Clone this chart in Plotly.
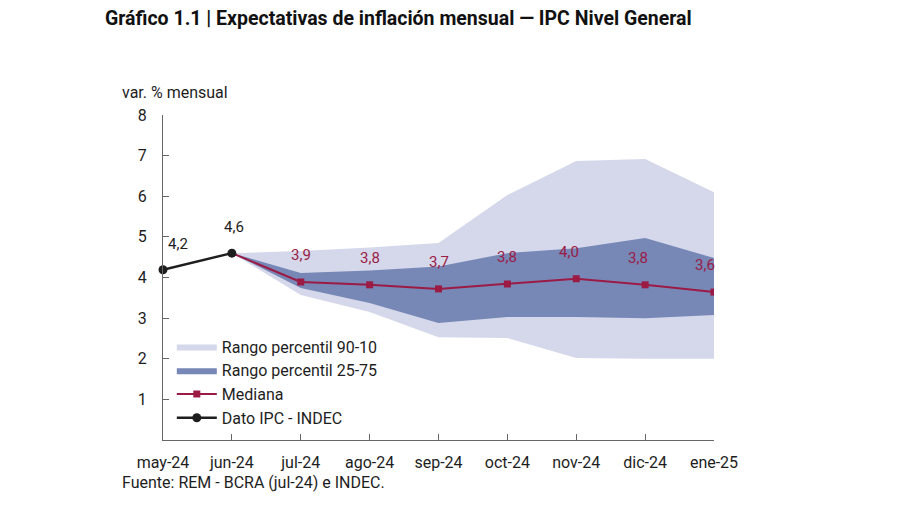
import plotly.graph_objects as go

months = ["may-24", "jun-24", "jul-24", "ago-24", "sep-24", "oct-24", "nov-24", "dic-24", "ene-25"]

ipc_months = ["may-24", "jun-24"]
ipc_values = [4.19, 4.6]

fc_months = ["jun-24", "jul-24", "ago-24", "sep-24", "oct-24", "nov-24", "dic-24", "ene-25"]
mediana = [4.6, 3.89, 3.82, 3.72, 3.84, 3.97, 3.82, 3.64]
p10 = [4.6, 3.57, 3.15, 2.53, 2.51, 2.02, 2.0, 2.0]
p90 = [4.6, 4.65, 4.74, 4.85, 6.03, 6.87, 6.92, 6.1]
p25 = [4.6, 3.74, 3.37, 2.88, 3.03, 3.03, 3.0, 3.08]
p75 = [4.6, 4.11, 4.17, 4.27, 4.6, 4.72, 4.97, 4.48]

y_ticks = [1, 2, 3, 4, 5, 6, 7, 8]

LIGHT = "#d4d8ea"
DARK = "#7787b6"
RED = "#9b1b45"
BLACK = "#1e1e1e"
FONT = "Roboto"

def fmt(v):
    return f"{v:.1f}".replace(".", ",")

fig = go.Figure()

fig.add_trace(go.Scatter(x=fc_months, y=p10, mode="lines", line=dict(width=0, color=LIGHT),
                         showlegend=False, hoverinfo="skip"))
fig.add_trace(go.Scatter(x=fc_months, y=p90, mode="lines", line=dict(width=0, color=LIGHT),
                         fill="tonexty", fillcolor=LIGHT, name="Rango percentil 90-10"))
fig.add_trace(go.Scatter(x=fc_months, y=p25, mode="lines", line=dict(width=0, color=DARK),
                         showlegend=False, hoverinfo="skip"))
fig.add_trace(go.Scatter(x=fc_months, y=p75, mode="lines", line=dict(width=0, color=DARK),
                         fill="tonexty", fillcolor=DARK, name="Rango percentil 25-75"))
fig.add_trace(go.Scatter(x=fc_months[1:], y=mediana[1:], mode="lines+markers",
                         line=dict(color=RED, width=2), marker=dict(symbol="square", size=7, color=RED),
                         name="Mediana", showlegend=False))
fig.add_trace(go.Scatter(x=fc_months[:2], y=mediana[:2], mode="lines",
                         line=dict(color=RED, width=2), showlegend=False, hoverinfo="skip"))
fig.add_trace(go.Scatter(x=[None], y=[None], mode="lines+markers",
                         line=dict(color=RED, width=2), marker=dict(symbol="square", size=7, color=RED),
                         name="Mediana"))
fig.add_trace(go.Scatter(x=ipc_months, y=ipc_values, mode="lines+markers",
                         line=dict(color=BLACK, width=2.5), marker=dict(symbol="circle", size=9, color=BLACK),
                         name="Dato IPC - INDEC", cliponaxis=False))

# labels for the median
label_xshift = [0, 0, 0, 0, -7, -7, -9]
for m, v, xs in zip(fc_months[1:], mediana[1:], label_xshift):
    fig.add_annotation(x=m, y=v, text=fmt(v), showarrow=False, yshift=27, xshift=xs,
                       font=dict(family=FONT, size=15, color=RED))
# labels for IPC data
ipc_xshift = [15, 2]
for m, v, xs in zip(ipc_months, ipc_values, ipc_xshift):
    fig.add_annotation(x=m, y=v, text=fmt(v), showarrow=False, yshift=26, xshift=xs,
                       font=dict(family=FONT, size=15, color=BLACK))

fig.add_annotation(xref="paper", yref="paper", x=-0.078, y=1.068, xanchor="left", yanchor="middle",
                   text="var. % mensual", showarrow=False, font=dict(family=FONT, size=16, color=BLACK))
fig.add_annotation(xref="paper", yref="paper", x=-0.078, y=-0.132, xanchor="left", yanchor="middle",
                   text="Fuente: REM - BCRA (jul-24) e INDEC.", showarrow=False,
                   font=dict(family=FONT, size=16, color=BLACK))

fig.update_layout(
    width=900, height=505,
    margin=dict(l=163, r=186, t=115, b=65),
    paper_bgcolor="white", plot_bgcolor="white",
    font=dict(family=FONT, size=16, color=BLACK),
    title=dict(text="<b>Gráfico 1.1 | Expectativas de inflación mensual — IPC Nivel General</b>",
               x=105 / 900, xanchor="left", xref="container", y=1 - 18 / 505, yanchor="middle",
               yref="container", font=dict(family=FONT, size=19.5, color="#111111")),
    legend=dict(x=0.016, y=0.34, xanchor="left", yanchor="top", bgcolor="rgba(0,0,0,0)",
                font=dict(family=FONT, size=16, color=BLACK), itemwidth=40, tracegroupgap=0,
                traceorder="normal"),
    showlegend=True,
)
fig.update_xaxes(type="category", categoryorder="array", categoryarray=months, range=[0, 8],
                 showgrid=False, zeroline=False, showline=True, linecolor="#666666", linewidth=1,
                 ticks="inside", ticklen=6, tickcolor="#666666", ticklabelstandoff=8,
                 tickfont=dict(family=FONT, size=16, color=BLACK))
fig.update_yaxes(range=[0, 8], tickvals=y_ticks, showgrid=False, zeroline=False, showline=True,
                 linecolor="#666666", linewidth=1, ticks="inside", ticklen=6, tickcolor="#666666",
                 ticklabelstandoff=12, tickfont=dict(family=FONT, size=16, color=BLACK))

fig.write_html("out.html", config={"displayModeBar": False},
               post_script="document.body.style.margin='0px';")
